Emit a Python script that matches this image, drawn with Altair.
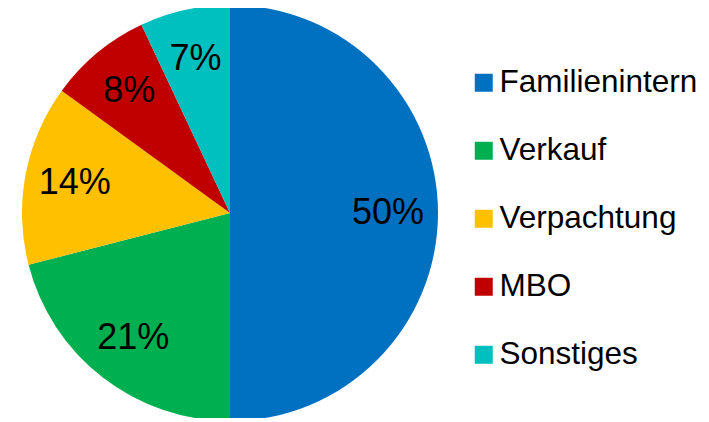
import altair as alt
import pandas as pd

categories = ["Familienintern", "Verkauf", "Verpachtung", "MBO", "Sonstiges"]
values = [50, 21, 14, 8, 7]
labels = ["50%", "21%", "14%", "8%", "7%"]
colors = ["#0070C0", "#00B050", "#FFC000", "#C00000", "#00BFBF"]

df = pd.DataFrame({"cat": categories, "val": values, "lab": labels, "idx": list(range(len(values)))})

base = alt.Chart(df).encode(
    theta=alt.Theta("val:Q", stack=True),
    order=alt.Order("idx:Q"),
)

arcs = base.mark_arc(outerRadius=208).encode(
    color=alt.Color(
        "cat:N",
        scale=alt.Scale(domain=categories, range=colors),
        sort=categories,
        legend=alt.Legend(
            title=None,
            orient="none",
            legendX=460,
            legendY=59,
            symbolType="square",
            symbolSize=324,
            symbolStrokeWidth=0,
            labelFontSize=31.5,
            labelFont="Liberation Sans",
            labelColor="#000000",
            labelOffset=0,
            rowPadding=35,
            padding=0,
            labelLimit=300,
        ),
    )
)

text = base.mark_text(radius=158, fontSize=36, font="Liberation Sans", color="#000000").encode(
    text="lab:N"
)

chart = (
    (arcs + text)
    .properties(
        width=444,
        height=410,
        padding={"left": 0, "top": 0, "right": 249, "bottom": 0},
        autosize=alt.AutoSizeParams(type="none"),
    )
    .configure_view(stroke=None)
)

chart.save("out.html", embed_options={"renderer": "svg", "actions": False})
